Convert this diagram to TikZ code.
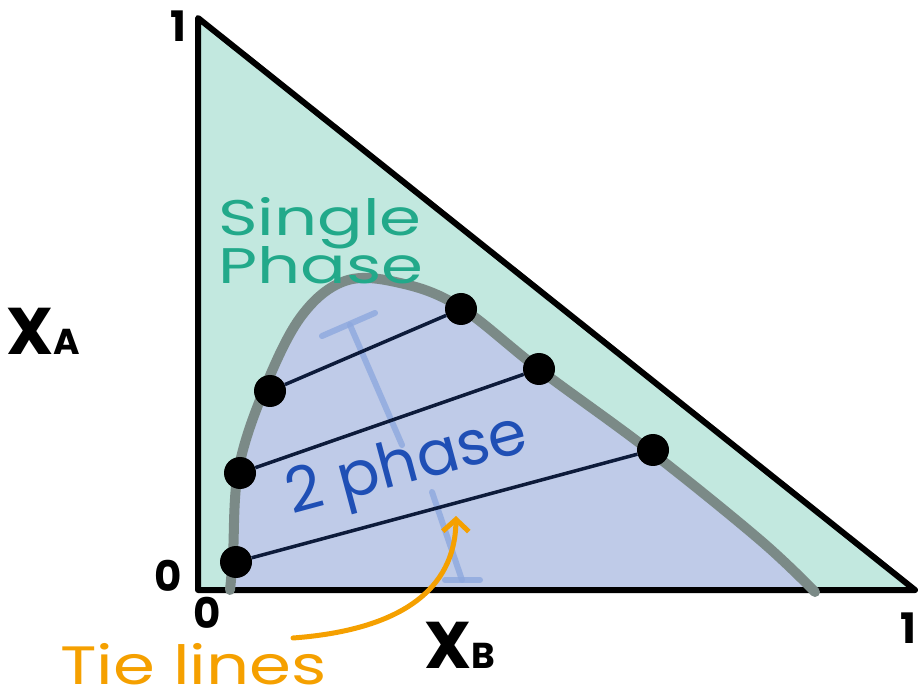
\documentclass[tikz,border=0pt]{standalone}
\usepackage{fontspec}
\setmainfont{Poppins}
\usetikzlibrary{arrows.meta}
\definecolor{teal1}{HTML}{C2E8DF}
\definecolor{blue1}{HTML}{BFCBE8}
\definecolor{curvegray}{HTML}{7B8A87}
\definecolor{tieblue}{HTML}{0D1B3A}
\definecolor{labelblue}{HTML}{1F4FB5}
\definecolor{labelteal}{HTML}{22A98A}
\definecolor{orng}{HTML}{F5A000}
\definecolor{faintblue}{HTML}{8EA8DE}
\tikzset{
  dot/.style={circle,fill=black,inner sep=0pt,minimum size=32pt},
  tie/.style={draw=tieblue,line width=3.5pt},
  beam/.style={faintblue,line width=6pt,line cap=round,opacity=0.8},
  axislbl/.style={font=\fontsize{42}{46}\selectfont\bfseries,inner sep=0pt},
  bigx/.style={font=\fontsize{66}{66}\selectfont\bfseries,inner sep=0pt,anchor=base west},
  tealtxt/.style={labelteal,font=\fontsize{50}{50}\selectfont,inner sep=0pt,anchor=base west,xscale=1.35},
}
\begin{document}
\begin{tikzpicture}[x=1pt,y=-1pt]
\useasboundingbox (0,0) rectangle (924,692);
% triangle
\coordinate (T) at (198,18);
\coordinate (O) at (198,590);
\coordinate (R) at (915,590);
\fill[teal1] (T) -- (O) -- (R) -- cycle;
% two-phase region
\fill[blue1] plot[smooth,tension=0.6] coordinates {(230,590) (233,555) (238,472) (262,395) (300,318) (345,281) (400,283) (460,307) (540,370) (650,451) (760,540) (815,592)} -- cycle;
% faint I-beam
\draw[beam] (322,336) -- (375,313);
\draw[beam] (350,325) -- (402,445);
\draw[beam] (432,492) -- (462,580);
\draw[beam] (445,580) -- (480,580);
% triangle outline
\draw[black,line width=6pt,line join=round] (T) -- (O) -- (R) -- cycle;
% curve
\draw[curvegray,line width=10pt,line cap=round] plot[smooth,tension=0.6] coordinates {(230,590) (233,555) (238,472) (262,395) (300,318) (345,281) (400,283) (460,307) (540,370) (650,451) (760,540) (815,592)};
% dots
\node[dot] (a1) at (236,562) {};
\node[dot] (a2) at (240,473) {};
\node[dot] (a3) at (270,391) {};
\node[dot] (b3) at (461,309) {};
\node[dot] (b2) at (539,369) {};
\node[dot] (b1) at (653,450) {};
\draw[tie] (a1) -- (b1);
\draw[tie] (a2) -- (b2);
\draw[tie] (a3) -- (b3);
% labels
\node[tealtxt] (sp1) at (218,236) {Single};
\node[tealtxt] (sp2) at (218,284) {Phase};
\node[labelblue,font=\fontsize{62}{60}\selectfont,rotate=15,inner sep=0pt] (tp) at (408,468) {2 phase};
\node[axislbl] (one1) at (178,26) {1};
\node[axislbl] (zero1) at (168,576) {0};
\node[axislbl] (zero2) at (207,613) {0};
\node[axislbl] (one2) at (908,628) {1};
\node[bigx] (xa) at (6,355) {X{\fontsize{36}{36}\selectfont A}};
\node[bigx] (xb) at (424,668) {X{\fontsize{36}{36}\selectfont B}};
\node[orng,font=\fontsize{54}{54}\selectfont,inner sep=0pt,anchor=base west,xscale=1.25] (tl) at (60,684) {Tie lines};
\coordinate (arrS) at (293,638);
\draw[orng,line width=5pt,line cap=round,line join=round,-{Straight Barb[length=12pt,width=26pt]}] (arrS) .. controls (400,630) and (455,590) .. (456,516);
\end{tikzpicture}
\end{document}
